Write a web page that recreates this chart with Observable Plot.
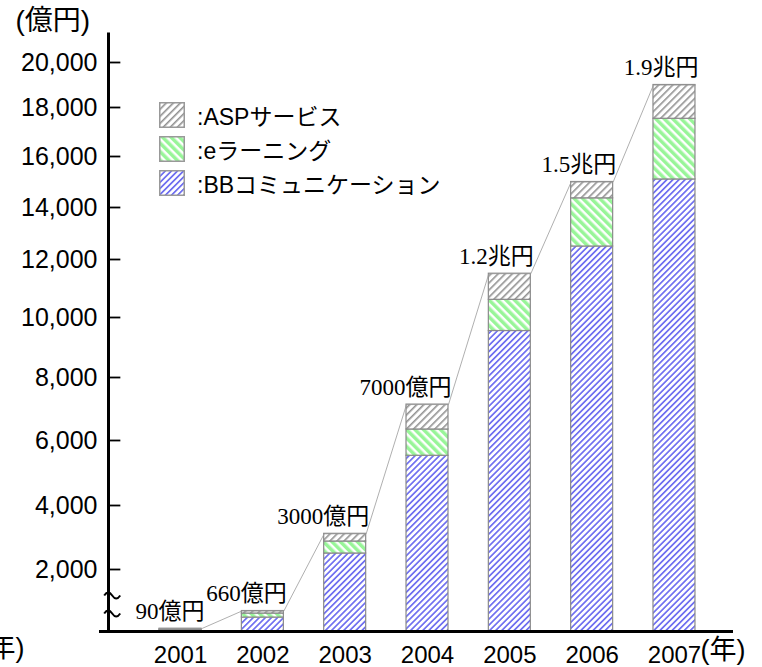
<!DOCTYPE html>
<html><head><meta charset="utf-8">
<script src="https://cdn.jsdelivr.net/npm/d3@7"></script>
<script src="https://cdn.jsdelivr.net/npm/@observablehq/plot@0.6"></script>
<style>
body{margin:0;background:#fff;}
#wrap{position:relative;width:762px;height:667px;overflow:hidden;background:#fff;}
#legend{position:absolute;left:159px;top:102px;font-family:'Liberation Sans','Noto Sans CJK JP',sans-serif;font-size:23px;color:#000;}
.row{display:flex;align-items:center;height:26px;margin-bottom:8px;white-space:nowrap;}
.row svg{margin-right:12px;flex:none;}
</style></head><body>
<svg width="0" height="0" style="position:absolute">
<defs>
<pattern id="pBB" patternUnits="userSpaceOnUse" width="4.3" height="4.3" patternTransform="rotate(45)">
<rect width="4.3" height="4.3" fill="#ffffff"/><rect width="1.7" height="4.3" fill="#6f6ff0"/></pattern>
<pattern id="pEL" patternUnits="userSpaceOnUse" width="6" height="6" patternTransform="rotate(-45)">
<rect width="6" height="6" fill="#ffffff"/><rect width="3.5" height="6" fill="#98f598"/></pattern>
<pattern id="pASP" patternUnits="userSpaceOnUse" width="5" height="5" patternTransform="rotate(45)">
<rect width="5" height="5" fill="#ffffff"/><rect width="1.6" height="5" fill="#929292"/></pattern>
</defs></svg>
<div id="wrap"><div id="legend"></div></div>
<script>
// ---- data ----
const years = [2001, 2002, 2003, 2004, 2005, 2006, 2007];
const seriesNames = ["BBコミュニケーション", "eラーニング", "ASPサービス"];
const bbValues  = [50, 450, 2500, 5530, 9550, 12500, 15100];
const elValues  = [15, 130, 375, 820, 1060, 1860, 2440];
const aspValues = [25, 80, 240, 790, 900, 640, 1460];
const totalLabels = ["90億円", "660億円", "3000億円", "7000億円", "1.2兆円", "1.5兆円", "1.9兆円"];
const yTicks = [2000, 4000, 6000, 8000, 10000, 12000, 14000, 16000, 18000, 20000];
const legendOrder = ["ASPサービス", "eラーニング", "BBコミュニケーション"];
const breakValues = [1160, 580]; // axis-break squiggles
const yAxisTop = 21330;          // value axis line extends a little above 20,000

// ---- scale definitions ----
const patternIds = ["pBB", "pEL", "pASP"];
const yKnots = [0, ...yTicks];
const yPixels = [631, 569, 505, 440, 377, 317, 259, 207, 156, 107, 62]; // broken, compressed value axis
const xStart = 2000.125, xEnd = 2007.717;
const half = 0.255;      // half bar width, in years
const tickLen = 0.15;    // inward tick length, in years

const seriesValues = [bbValues, elValues, aspValues];
const tidy = [];
years.forEach((yr, i) => seriesNames.forEach((s, j) => tidy.push({year: yr, series: s, value: seriesValues[j][i]})));
const totals = years.map((yr, i) => ({year: yr, total: bbValues[i] + elValues[i] + aspValues[i], label: totalLabels[i]}));
const tops = totals.flatMap(d => [{x: d.year - half, y: d.total}, {x: d.year + half, y: d.total}]);

// "~" shaped symbol for the axis break
const tilde = {
  draw(context, size) {
    const r = Math.sqrt(size / Math.PI);
    context.moveTo(-r, 0);
    context.quadraticCurveTo(-r / 2, -r * 0.75, 0, 0);
    context.quadraticCurveTo(r / 2, r * 0.75, r, 0);
  }
};

const sans = "'Liberation Sans', 'Noto Sans CJK JP', sans-serif";
const mixed = "'Liberation Serif', 'Noto Sans CJK JP', serif";

const chart = Plot.plot({
  width: 762, height: 667,
  marginLeft: 108, marginRight: 29, marginTop: 32, marginBottom: 36,
  style: {fontFamily: sans, fontSize: "25px", background: "white", color: "black", overflow: "visible"},
  x: {type: "linear", domain: [xStart, xEnd]},
  y: {type: "linear", domain: yKnots, range: yPixels},
  color: {type: "ordinal", domain: seriesNames, range: patternIds.map(id => `url(#${id})`)},
  marks: [
    Plot.rectY(tidy, Plot.stackY({x1: d => d.year - half, x2: d => d.year + half, y: "value", fill: "series", stroke: "#8a8a8a", strokeWidth: 1.2})),
    Plot.line(tops, {x: "x", y: "y", stroke: "#9a9a9a", strokeWidth: 0.8}),
    Plot.text(totals, {x: d => d.year + half, y: "total", text: "label", textAnchor: "end", lineAnchor: "middle", dx: 3, dy: -17, fontSize: 23, fontFamily: mixed, fill: "black"}),
    Plot.link([yAxisTop], {x1: xStart, x2: xStart, y1: 0, y2: d => d, stroke: "black", strokeWidth: 3}),
    Plot.ruleY([0], {stroke: "black", strokeWidth: 3.2, insetLeft: -9}),
    Plot.ruleY(yTicks, {y: d => d, x1: xStart, x2: xStart + tickLen, stroke: "black", strokeWidth: 1.8}),
    Plot.dot(breakValues, {x: xStart + 0.045, y: d => d, symbol: tilde, r: 8, stroke: "black", strokeWidth: 2, fill: "none"}),
    Plot.axisY({ticks: yTicks, tickFormat: d3.format(","), tickSize: 0, tickPadding: 11, fontSize: 25, label: null}),
    Plot.axisX({ticks: years, tickFormat: d => String(d), tickSize: 0, tickPadding: 14, fontSize: 24, label: null}),
    Plot.text(["(億円)"], {text: d => d, frameAnchor: "top-left", textAnchor: "start", lineAnchor: "middle", dx: -93, dy: -11, fontSize: 28, fill: "black"}),
    Plot.text(["(年)"], {text: d => d, frameAnchor: "bottom-right", textAnchor: "start", lineAnchor: "middle", dx: -33, dy: 19, fontSize: 27, fill: "black"}),
    Plot.text(["(年)"], {text: d => d, frameAnchor: "bottom-left", textAnchor: "end", lineAnchor: "middle", dx: -84, dy: 17, fontSize: 27, fill: "black"})
  ]
});
document.getElementById("wrap").prepend(chart);

const legend = document.getElementById("legend");
legendOrder.forEach(name => {
  const id = patternIds[seriesNames.indexOf(name)];
  const row = document.createElement("div");
  row.className = "row";
  row.innerHTML = `<svg width="26" height="26"><rect x="0.75" y="0.75" width="24.5" height="24.5" fill="url(#${id})" stroke="#999" stroke-width="1.5"/></svg><span>:${name}</span>`;
  legend.appendChild(row);
});
</script>
</body></html>
